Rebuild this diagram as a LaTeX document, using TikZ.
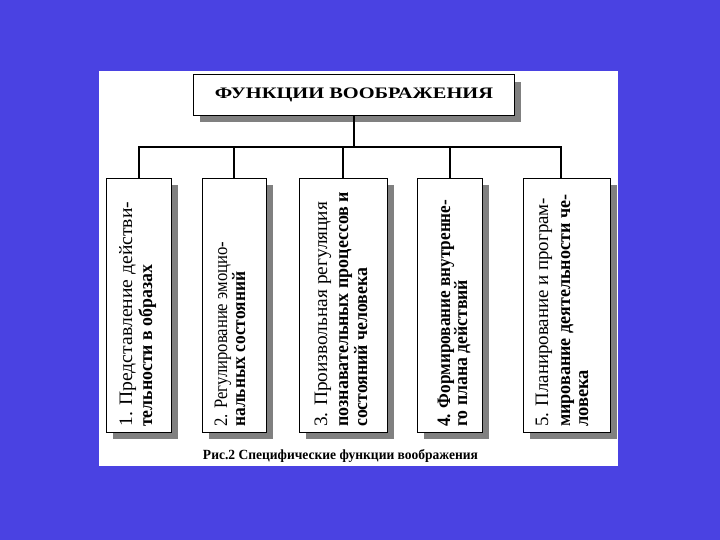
\documentclass[tikz,border=0pt]{standalone}
\usepackage{fontspec}
\setmainfont{Liberation Serif}
\usepackage{graphicx}
\usetikzlibrary{shadows}
\definecolor{bgblue}{RGB}{74,66,226}
\definecolor{shadowgray}{RGB}{128,128,128}
\newcommand{\fitline}[2]{\resizebox{#1pt}{\height}{#2}}
\begin{document}
\begin{tikzpicture}[x=1pt,y=-1pt,
  box/.style={draw=black, line width=0.9pt, fill=white, inner sep=0pt,
    drop shadow={shadow xshift=7pt, shadow yshift=-7pt, fill=shadowgray, opacity=1}},
  link/.style={line width=2pt},
  linereg/.style={rotate=90, anchor=base west, inner sep=0pt, font=\fontsize{19}{20}\selectfont},
  linebold/.style={rotate=90, anchor=base west, inner sep=0pt, font=\fontsize{19}{20}\selectfont\bfseries}]
\fill[bgblue] (0,0) rectangle (720,540);
\useasboundingbox (0,0) rectangle (720,540);
\fill[white] (99,71) rectangle (618,466);
% title
\node[box, minimum width=321pt, minimum height=40.5pt, anchor=north west] (title) at (193,74.5)
  {\fitline{278}{\fontsize{16}{16}\selectfont\bfseries ФУНКЦИИ ВООБРАЖЕНИЯ}};
% boxes
\node[box, minimum width=65pt, minimum height=254pt, anchor=north west] (b1) at (106,178) {};
\node[box, minimum width=64pt, minimum height=254pt, anchor=north west] (b2) at (202,178) {};
\node[box, minimum width=88pt, minimum height=254pt, anchor=north west] (b3) at (299,178) {};
\node[box, minimum width=65pt, minimum height=254pt, anchor=north west] (b4) at (417,178) {};
\node[box, minimum width=87pt, minimum height=254pt, anchor=north west] (b5) at (523,178) {};
% connectors
\coordinate (hub) at (353.5,147);
\coordinate (d5) at (561,147);
\draw[link] (title.south) -- (title.south |- hub);
\draw[link] (b1.north) -- (b1.north |- hub) -- (d5) -- (d5 |- b5.north);
\draw[link] (b2.north) -- (b2.north |- hub);
\draw[link] (b3.north) -- (b3.north |- hub);
\draw[link] (b4.north) -- (b4.north |- hub);
% texts
\node[linereg] (b1l1) at (132,427) {\fitline{225}{1. Представление действи-}};
\node[linebold] (b1l2) at (152,427) {\fitline{162}{тельности в образах}};
\node[linereg] (b2l1) at (227,427) {\fitline{185}{2. Регулирование эмоцио-}};
\node[linebold] (b2l2) at (245,427) {\fitline{155}{нальных состояний}};
\node[linereg] (b3l1) at (327,427) {\fitline{225}{3. Произвольная регуляция}};
\node[linebold] (b3l2) at (348,427) {\fitline{235}{познавательных процессов и}};
\node[linebold] (b3l3) at (367,427) {\fitline{159}{состояний человека}};
\node[linebold] (b4l1) at (450,427) {\fitline{227}{4. Формирование внутренне-}};
\node[linebold] (b4l2) at (467,427) {\fitline{147}{го плана действий}};
\node[linereg] (b5l1) at (548,427) {\fitline{229}{5. Планирование и програм-}};
\node[linebold] (b5l2) at (570,427) {\fitline{232}{мирование деятельности че-}};
\node[linebold] (b5l3) at (588,427) {\fitline{57}{ловека}};
% caption
\node[inner sep=0pt, anchor=base] (cap) at (340.5,459)
  {\fitline{275}{\fontsize{14}{14}\selectfont\bfseries Рис.2 Специфические функции воображения}};
\end{tikzpicture}
\end{document}
